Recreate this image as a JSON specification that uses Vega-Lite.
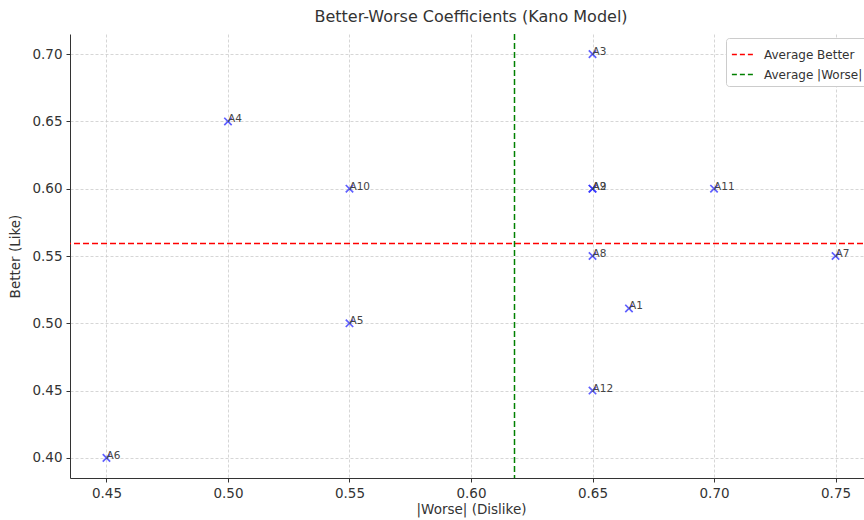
{
  "$schema": "https://vega.github.io/schema/vega-lite/v6.json",
  "autosize": "none",
  "width": 802,
  "height": 444,
  "padding": {"left": 70, "top": 34, "right": 0, "bottom": 42},
  "background": "white",
  "config": {
    "font": "DejaVu Sans",
    "view": {"stroke": null},
    "axis": {
      "labelFont": "DejaVu Sans", "titleFont": "DejaVu Sans",
      "labelFontSize": 13.5, "titleFontSize": 13.5, "titleFontWeight": "normal",
      "labelColor": "#333", "titleColor": "#333",
      "domainColor": "#333", "tickColor": "#333", "tickSize": 4,
      "gridColor": "#cccccc", "gridDash": [3, 2], "gridWidth": 0.8
    }
  },
  "title": {"text": "Better-Worse Coefficients (Kano Model)", "fontSize": 16, "fontWeight": "normal", "color": "#333", "font": "DejaVu Sans", "offset": 8},
  "datasets": {
    "pts": [
      {"name": "A1", "worse": 0.665, "better": 0.511},
      {"name": "A2", "worse": 0.65, "better": 0.60},
      {"name": "A3", "worse": 0.65, "better": 0.70},
      {"name": "A4", "worse": 0.50, "better": 0.65},
      {"name": "A5", "worse": 0.55, "better": 0.50},
      {"name": "A6", "worse": 0.45, "better": 0.40},
      {"name": "A7", "worse": 0.75, "better": 0.55},
      {"name": "A8", "worse": 0.65, "better": 0.55},
      {"name": "A9", "worse": 0.65, "better": 0.60},
      {"name": "A10", "worse": 0.55, "better": 0.60},
      {"name": "A11", "worse": 0.70, "better": 0.60},
      {"name": "A12", "worse": 0.65, "better": 0.45}
    ],
    "hline": [{"label": "Average Better", "value": 0.5593}],
    "vline": [{"label": "Average |Worse|", "value": 0.6179}]
  },
  "layer": [
    {
      "data": {"name": "pts"},
      "mark": {"type": "point", "shape": "M-1,-1L1,1M-1,1L1,-1", "size": 55, "filled": false, "color": "#2a2aff", "opacity": 0.75, "strokeWidth": 1.7},
      "encoding": {
        "x": {"field": "worse", "type": "quantitative", "scale": {"domain": [0.435, 0.765], "nice": false, "zero": false},
              "axis": {"values": [0.45, 0.5, 0.55, 0.6, 0.65, 0.7, 0.75], "format": ".2f", "title": "|Worse| (Dislike)", "titlePadding": 3, "labelPadding": 4}},
        "y": {"field": "better", "type": "quantitative", "scale": {"domain": [0.385, 0.715], "nice": false, "zero": false},
              "axis": {"values": [0.4, 0.45, 0.5, 0.55, 0.6, 0.65, 0.7], "format": ".2f", "title": "Better (Like)", "titlePadding": 9, "labelPadding": 4}}
      }
    },
    {
      "data": {"name": "pts"},
      "mark": {"type": "text", "align": "left", "baseline": "bottom", "dx": 0, "dy": 3, "fontSize": 10.5, "color": "#444", "font": "DejaVu Sans"},
      "encoding": {
        "x": {"field": "worse", "type": "quantitative"},
        "y": {"field": "better", "type": "quantitative"},
        "text": {"field": "name"}
      }
    },
    {
      "data": {"name": "hline"},
      "mark": {"type": "rule", "strokeDash": [6, 3], "strokeWidth": 1.5},
      "encoding": {
        "y": {"field": "value", "type": "quantitative"},
        "color": {"field": "label", "type": "nominal",
                  "scale": {"domain": ["Average Better", "Average |Worse|"], "range": ["#ff0000", "#008000"]},
                  "legend": {"title": null, "orient": "top-right", "offset": 4, "symbolType": "stroke", "symbolDash": [5, 3], "symbolStrokeWidth": 1.5, "symbolSize": 450, "labelFontSize": 12, "labelColor": "#333", "labelFont": "DejaVu Sans", "labelOffset": 10, "strokeColor": "#ccc", "fillColor": "white", "padding": 5, "cornerRadius": 3, "rowPadding": 2}}
      }
    },
    {
      "data": {"name": "vline"},
      "mark": {"type": "rule", "strokeDash": [6, 3], "strokeWidth": 1.5},
      "encoding": {
        "x": {"field": "value", "type": "quantitative"},
        "color": {"field": "label", "type": "nominal"}
      }
    }
  ]
}
